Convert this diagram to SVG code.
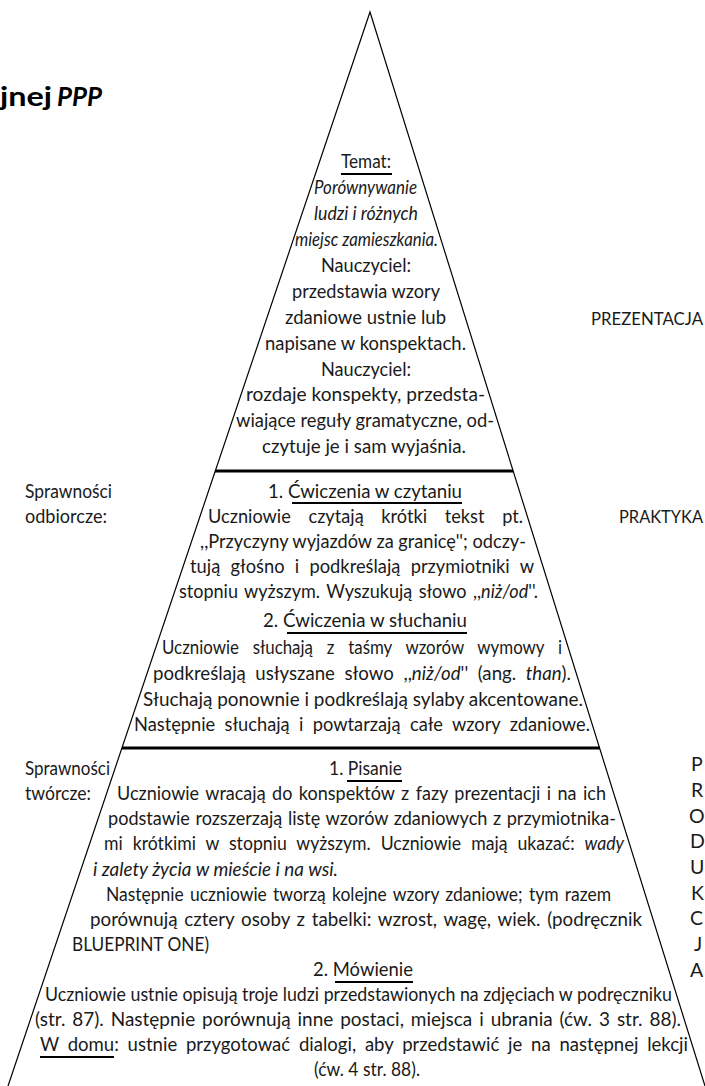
<svg xmlns="http://www.w3.org/2000/svg" width="705" height="1086" viewBox="0 0 705 1086">
<style>
text { font-family: Lato, "Open Sans", "Liberation Sans", sans-serif; font-size: 19.5px; fill: #1a1a1a; }
.i { font-style: italic; }
.ttl { font-weight: bold; font-size: 26px; fill: #000; }
.sm { font-size: 18.5px; }
.lbl { font-size: 16.8px; }
.ul { stroke: #000; stroke-width: 2; }
.sep { stroke: #000; stroke-width: 3; }
.edge { fill: none; stroke: #000; stroke-width: 1.2; }
</style>
<g id="connectors">
  <path class="edge" d="M8,1086 L370,12 L705,1086"/>
  <line class="sep" x1="215" y1="471" x2="513" y2="471"/>
  <line class="sep" x1="122" y1="748" x2="600" y2="748"/>
</g>
<g id="title">
  <text class="ttl" x="0" y="106" textLength="52" lengthAdjust="spacingAndGlyphs">jnej</text>
  <text class="ttl i" x="57" y="106" textLength="45" lengthAdjust="spacingAndGlyphs">PPP</text>
</g>
<g id="prezentacja">
  <text x="341" y="168" textLength="50" lengthAdjust="spacingAndGlyphs">Temat:</text>
  <line class="ul" x1="341" y1="174" x2="392" y2="174"/>
  <text class="i" x="314" y="194" textLength="103" lengthAdjust="spacingAndGlyphs">Porównywanie</text>
  <text class="i" x="314" y="220" textLength="104" lengthAdjust="spacingAndGlyphs">ludzi i różnych</text>
  <text class="i" x="295" y="246" textLength="143" lengthAdjust="spacingAndGlyphs">miejsc zamieszkania.</text>
  <text x="321" y="272" textLength="90" lengthAdjust="spacingAndGlyphs">Nauczyciel:</text>
  <text x="292" y="298" textLength="148" lengthAdjust="spacingAndGlyphs">przedstawia wzory</text>
  <text x="285" y="324" textLength="161" lengthAdjust="spacingAndGlyphs">zdaniowe ustnie lub</text>
  <text x="265" y="350" textLength="201" lengthAdjust="spacingAndGlyphs">napisane w konspektach.</text>
  <text x="321" y="376" textLength="90" lengthAdjust="spacingAndGlyphs">Nauczyciel:</text>
  <text x="246" y="401" textLength="239" lengthAdjust="spacingAndGlyphs">rozdaje konspekty, przedsta-</text>
  <text x="236" y="427" textLength="258" lengthAdjust="spacingAndGlyphs">wiające reguły gramatyczne, od-</text>
  <text x="262" y="453" textLength="204" lengthAdjust="spacingAndGlyphs">czytuje je i sam wyjaśnia.</text>
</g>
<g id="label-prezentacja">
  <text class="lbl" x="591" y="325" textLength="112" lengthAdjust="spacingAndGlyphs">PREZENTACJA</text>
</g>
<g id="label-odbiorcze">
  <text x="25" y="498" textLength="87" lengthAdjust="spacingAndGlyphs">Sprawności</text>
  <text x="25" y="523" textLength="82" lengthAdjust="spacingAndGlyphs">odbiorcze:</text>
</g>
<g id="praktyka">
  <text x="268" y="498" textLength="194" lengthAdjust="spacingAndGlyphs">1. Ćwiczenia w czytaniu</text>
  <line class="ul" x1="292" y1="503" x2="462" y2="503"/>
  <text x="208" y="523" textLength="315" lengthAdjust="spacingAndGlyphs" style="word-spacing:14px">Uczniowie czytają krótki tekst pt.</text>
  <text x="200" y="548" textLength="326" lengthAdjust="spacingAndGlyphs">,,Przyczyny wyjazdów za granicę''; odczy-</text>
  <text x="190" y="573" textLength="344" lengthAdjust="spacingAndGlyphs" style="word-spacing:6px">tują głośno i podkreślają przymiotniki w</text>
  <text x="179" y="598" textLength="359" lengthAdjust="spacingAndGlyphs" style="word-spacing:2px">stopniu wyższym. Wyszukują słowo ,,<tspan class="i">niż/od</tspan>''.</text>
  <text x="263" y="627" textLength="204" lengthAdjust="spacingAndGlyphs">2. Ćwiczenia w słuchaniu</text>
  <line class="ul" x1="287" y1="633" x2="467" y2="633"/>
  <text x="162" y="654" textLength="400" lengthAdjust="spacingAndGlyphs" style="word-spacing:11px">Uczniowie słuchają z taśmy wzorów wymowy i</text>
  <text x="153" y="680" textLength="418" lengthAdjust="spacingAndGlyphs" style="word-spacing:5px">podkreślają usłyszane słowo ,,<tspan class="i">niż/od</tspan>'' (ang. <tspan class="i">than</tspan>).</text>
  <text x="143" y="706" textLength="440" lengthAdjust="spacingAndGlyphs">Słuchają ponownie i podkreślają sylaby akcentowane.</text>
  <text x="134" y="731" textLength="456" lengthAdjust="spacingAndGlyphs" style="word-spacing:5px">Następnie słuchają i powtarzają całe wzory zdaniowe.</text>
</g>
<g id="label-praktyka">
  <text class="lbl" x="619" y="523" textLength="84" lengthAdjust="spacingAndGlyphs">PRAKTYKA</text>
</g>
<g id="label-tworcze">
  <text x="25" y="775" textLength="85" lengthAdjust="spacingAndGlyphs">Sprawności</text>
  <text x="25" y="800" textLength="66" lengthAdjust="spacingAndGlyphs">twórcze:</text>
</g>
<g id="produkcja">
  <text x="329" y="775" textLength="73" lengthAdjust="spacingAndGlyphs">1. Pisanie</text>
  <line class="ul" x1="347" y1="781" x2="402" y2="781"/>
  <text x="117" y="800" textLength="489" lengthAdjust="spacingAndGlyphs" style="word-spacing:2px">Uczniowie wracają do konspektów z fazy prezentacji i na ich</text>
  <text x="108" y="825" textLength="508" lengthAdjust="spacingAndGlyphs" style="word-spacing:1px">podstawie rozszerzają listę wzorów zdaniowych z przymiotnika-</text>
  <text x="104" y="850" textLength="520" lengthAdjust="spacingAndGlyphs" style="word-spacing:6px">mi krótkimi w stopniu wyższym. Uczniowie mają ukazać: <tspan class="i">wady</tspan></text>
  <text class="i" x="93" y="876" textLength="245" lengthAdjust="spacingAndGlyphs">i zalety życia w mieście i na wsi.</text>
  <text x="106" y="901" textLength="505" lengthAdjust="spacingAndGlyphs" style="word-spacing:2px">Następnie uczniowie tworzą kolejne wzory zdaniowe; tym razem</text>
  <text x="90" y="926" textLength="552" lengthAdjust="spacingAndGlyphs" style="word-spacing:2px">porównują cztery osoby z tabelki: wzrost, wagę, wiek. (podręcznik</text>
  <text x="72" y="951" textLength="137" lengthAdjust="spacingAndGlyphs">BLUEPRINT ONE)</text>
  <text x="313" y="976" textLength="100" lengthAdjust="spacingAndGlyphs">2. Mówienie</text>
  <line class="ul" x1="335" y1="982" x2="413" y2="982"/>
  <text class="sm" x="45" y="1001" textLength="627" lengthAdjust="spacingAndGlyphs">Uczniowie ustnie opisują troje ludzi przedstawionych na zdjęciach w podręczniku</text>
  <text class="sm" x="35" y="1026" textLength="646" lengthAdjust="spacingAndGlyphs" style="word-spacing:2px">(str. 87). Następnie porównują inne postaci, miejsca i ubrania (ćw. 3 str. 88).</text>
  <text class="sm" x="40" y="1051" textLength="648" lengthAdjust="spacingAndGlyphs" style="word-spacing:4px">W domu: ustnie przygotować dialogi, aby przedstawić je na następnej lekcji</text>
  <line class="ul" x1="40" y1="1057" x2="114" y2="1057"/>
  <text x="314" y="1076" textLength="106" lengthAdjust="spacingAndGlyphs">(ćw. 4 str. 88).</text>
</g>
<g id="label-produkcja">
  <text x="691" y="771">P</text>
  <text x="691" y="797">R</text>
  <text x="689" y="823">O</text>
  <text x="690" y="848">D</text>
  <text x="690" y="874">U</text>
  <text x="691" y="900">K</text>
  <text x="690" y="925">C</text>
  <text x="694" y="951">J</text>
  <text x="690" y="977">A</text>
</g>
</svg>
